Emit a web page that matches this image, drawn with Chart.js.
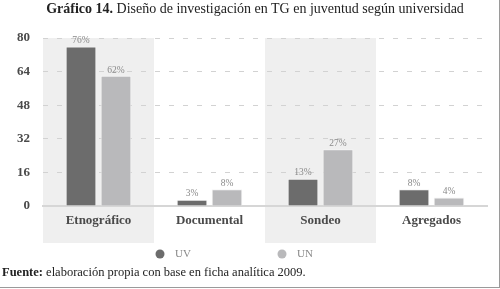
<!DOCTYPE html>
<html>
<head>
<meta charset="utf-8">
<script src="https://cdn.jsdelivr.net/npm/chart.js@4"></script>
<style>
  html, body { margin: 0; padding: 0; background: #fff; }
  #wrap { position: relative; width: 499px; height: 287px; border-right: 1px solid #9a9a9a; border-bottom: 1px solid #9a9a9a; overflow: hidden; }
  #chart { position: absolute; left: 0; top: 0; }
  .title { position: absolute; left: 0; top: 1px; width: 510px; text-align: center; font: 14px "Liberation Serif", serif; color: #222; white-space: nowrap; }
  .foot { position: absolute; left: 2px; top: 265px; font: 12.5px "Liberation Serif", serif; color: #222; white-space: nowrap; }
</style>
</head>
<body>
<div id="wrap">
  <canvas id="chart" width="500" height="289"></canvas>
  <div class="title"><b>Gráfico 14.</b> Diseño de investigación en TG en juventud según universidad</div>
  <div class="foot"><b>Fuente:</b> elaboración propia con base en ficha analítica 2009.</div>
</div>
<script>
const categories = ['Etnográfico', 'Documental', 'Sondeo', 'Agregados'];
const uvValues = [76, 3, 13, 8];
const unValues = [62, 8, 27, 4];
const yTicks = [0, 16, 32, 48, 64, 80];
const shadedCategories = [0, 2];

const serif = '"Liberation Serif", serif';

// grey bands behind every other category, running down past the labels
const bandPlugin = {
    id: 'bands',
    beforeDraw(chart) {
        const ctx = chart.ctx, x = chart.scales.x, area = chart.chartArea;
        const half = (area.right - area.left) / categories.length / 2;
        ctx.save();
        ctx.fillStyle = '#efefef';
        shadedCategories.forEach((i) => {
            const c = x.getPixelForValue(i);
            ctx.fillRect(c - half, area.top, half * 2, 243 - area.top);
        });
        ctx.restore();
    }
};

// small percentage labels above the bars + legend dots below
const labelPlugin = {
    id: 'labels',
    afterDatasetsDraw(chart) {
        const ctx = chart.ctx;
        ctx.save();
        ctx.font = '9.5px ' + serif;
        ctx.fillStyle = '#8a8a8a';
        ctx.textAlign = 'center';
        ctx.textBaseline = 'bottom';
        chart.data.datasets.forEach((ds, di) => {
            chart.getDatasetMeta(di).data.forEach((bar, i) => {
                ctx.fillText(ds.data[i] + '%', bar.x, bar.y - 1);
            });
        });
        // legend
        const spots = [160, 282];
        ctx.textAlign = 'left';
        ctx.textBaseline = 'middle';
        ctx.font = '11px ' + serif;
        chart.data.datasets.forEach((ds, di) => {
            ctx.fillStyle = ds.backgroundColor;
            ctx.beginPath();
            ctx.arc(spots[di], 254, 4.5, 0, Math.PI * 2);
            ctx.fill();
            ctx.fillStyle = '#888';
            ctx.fillText(ds.label, spots[di] + 15, 254);
        });
        ctx.restore();
    }
};

new Chart(document.getElementById('chart'), {
    type: 'bar',
    data: {
        labels: categories,
        datasets: [
            { label: 'UV', data: uvValues, backgroundColor: '#6c6c6c', borderColor: '#f4f4f4', borderWidth: 1,
              barPercentage: 0.88, categoryPercentage: 0.63 },
            { label: 'UN', data: unValues, backgroundColor: '#b9b9bb', borderColor: '#f4f4f4', borderWidth: 1,
              barPercentage: 0.88, categoryPercentage: 0.63 }
        ]
    },
    options: {
        responsive: false,
        animation: false,
        events: [],
        layout: { padding: { left: 0, right: 13, top: 38, bottom: 53 } },
        plugins: { legend: { display: false }, tooltip: { enabled: false } },
        scales: {
            x: {
                afterFit(scale) { scale.height = 30; },
                grid: { display: false, drawTicks: false },
                border: { display: true, color: '#d6d6d6', width: 2 },
                ticks: { color: '#4a4a4a', padding: 7, font: { family: serif, size: 13, weight: 'bold' } }
            },
            y: {
                min: 0, max: 80,
                afterFit(scale) { scale.width = 43; },
                afterBuildTicks(scale) { scale.ticks = yTicks.map((v) => ({ value: v })); },
                grid: { color: '#d2d2d2', drawTicks: false, lineWidth: 1 },
                border: { display: false, dash: [5, 9] },
                ticks: { color: '#4a4a4a', padding: 13, font: { family: serif, size: 13, weight: 'bold' } }
            }
        }
    },
    plugins: [bandPlugin, labelPlugin]
});
</script>
</body>
</html>
